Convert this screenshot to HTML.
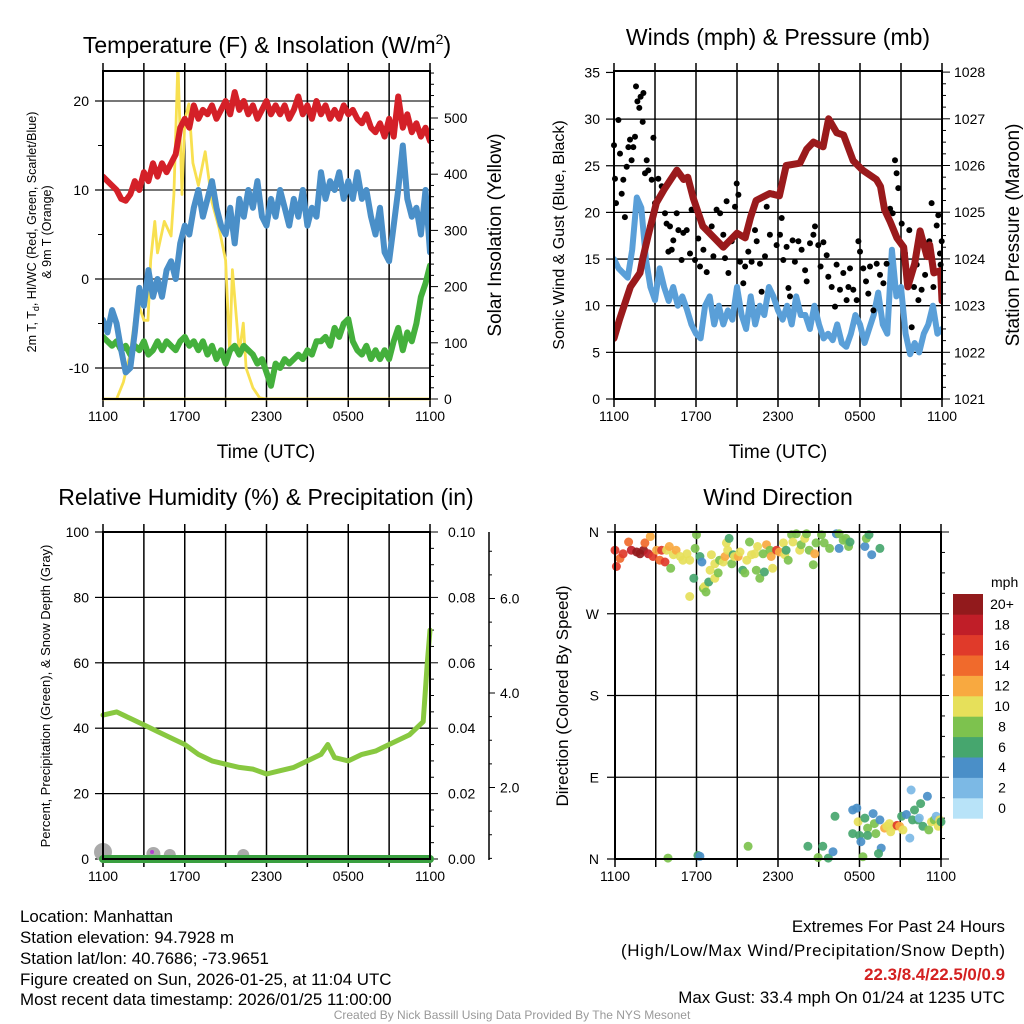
<!DOCTYPE html>
<html><head><meta charset="utf-8"><style>
html,body{margin:0;padding:0;background:#fff;}
svg{display:block;font-family:"Liberation Sans",sans-serif;}
</style></head><body>
<svg id="chart" width="1024" height="1024" viewBox="0 0 1024 1024" xmlns="http://www.w3.org/2000/svg">
<defs>
<clipPath id="c1"><rect x="103" y="71" width="327" height="328"/></clipPath>
<clipPath id="c2"><rect x="614" y="71" width="328" height="328"/></clipPath>
</defs>
<g id="layer"></g>
<text x="267" y="53" font-size="23" text-anchor="middle">Temperature (F) &amp; Insolation (W/m<tspan dy="-9" font-size="14">2</tspan><tspan dy="9">)</tspan></text>
<text x="778" y="45" font-size="23" text-anchor="middle">Winds (mph) &amp; Pressure (mb)</text>
<text x="266" y="505" font-size="23" text-anchor="middle">Relative Humidity (%) &amp; Precipitation (in)</text>
<text x="778" y="505" font-size="23" text-anchor="middle">Wind Direction</text>
<text x="266" y="458" font-size="19" text-anchor="middle">Time (UTC)</text>
<text x="778" y="458" font-size="19" text-anchor="middle">Time (UTC)</text>
<text transform="translate(36,232) rotate(-90)" font-size="12.5" text-anchor="middle"><tspan x="0" y="0">2m T, T<tspan font-size="9" dy="3">d</tspan><tspan dy="-3">, HI/WC (Red, Green, Scarlet/Blue)</tspan></tspan><tspan x="0" y="15">&amp; 9m T (Orange)</tspan></text>
<text transform="translate(501,235) rotate(-90)" font-size="19" text-anchor="middle">Solar Insolation (Yellow)</text>
<text transform="translate(564,235) rotate(-90)" font-size="16" text-anchor="middle">Sonic Wind &amp; Gust (Blue, Black)</text>
<text transform="translate(1019,235) rotate(-90)" font-size="19" text-anchor="middle">Station Pressure (Maroon)</text>
<text transform="translate(50,696) rotate(-90)" font-size="13" text-anchor="middle">Percent, Precipitation (Green), &amp; Snow Depth (Gray)</text>
<text transform="translate(568,696) rotate(-90)" font-size="17" text-anchor="middle">Direction (Colored By Speed)</text>
<text x="991" y="587" font-size="14">mph</text>
<g font-size="16.9">
<text x="20" y="922">Location: Manhattan</text>
<text x="20" y="943">Station elevation: 94.7928 m</text>
<text x="20" y="964">Station lat/lon: 40.7686; -73.9651</text>
<text x="20" y="985">Figure created on Sun, 2026-01-25, at 11:04 UTC</text>
<text x="20" y="1005">Most recent data timestamp: 2026/01/25 11:00:00</text>
</g>
<g font-size="16.9" text-anchor="end">
<text x="1005" y="932">Extremes For Past 24 Hours</text>
<text x="1005" y="956" textLength="384" lengthAdjust="spacing">(High/Low/Max Wind/Precipitation/Snow Depth)</text>
<text x="1005" y="980" fill="#d42020" font-weight="bold">22.3/8.4/22.5/0/0.9</text>
<text x="1005" y="1003">Max Gust: 33.4 mph On 01/24 at 1235 UTC</text>
</g>
<text x="512" y="1019" font-size="12" fill="#999" text-anchor="middle">Created By Nick Bassill Using Data Provided By The NYS Mesonet</text>
</svg>
<script>
// ---------- data ----------
const timeTickLabels = ["1100","1700","2300","0500","1100"];
const tempTicks = [-10,0,10,20];
const solarTicks = [0,100,200,300,400,500];
const windTicks = [0,5,10,15,20,25,30,35];
const pressTicks = [1021,1022,1023,1024,1025,1026,1027,1028];
const rhTicks = [0,20,40,60,80,100];
const precipTicks = ["0.00","0.02","0.04","0.06","0.08","0.10"];
const snowTicks = ["2.0","4.0","6.0"];
const dirLabels = ["N","E","S","W","N"];
const speedLabels = ["0","2","4","6","8","10","12","14","16","18","20+"];
const speedColors = ["#b8e3f8","#7cb9e5","#4a8fc8","#46a66e","#7dc24e","#e6e05a","#f8a940","#f06a2c","#e03a2a","#c01e28","#921a1c"];

const tempValues = [11.5,11,10.5,10,9,8.8,9.5,11,10,12,11,13,11.5,13,12,13,14,17,18,17,19.5,18,19,18.5,19.5,18,19,20,18.5,21,19,20,18.5,19.5,18,19,20,18.5,19.5,18.5,19.5,18,19,20.5,18.5,19.5,18,20,18.5,19.5,18,19,18,19.5,18.5,19,18,17.5,18.5,17,16.5,17.5,16,18,16,20.5,17,18.5,16.5,17.5,16,17,15.5];
const dewValues = [-4.6,-6,-3.5,-5,-8,-10.5,-10,-6,-1,-3,1,-2,0,-2,1,2,0,4,6,5,8,10,7,9,11,8,6,5,8,4,9,7,10,8,11,7,6,9,7,10,8,6,9,7,10,6,8,7,12,9,11,10,12,9,11,9,12,9,10,7,5,8,3,2,6,10,15,9,7,8,5,10,3];
const chillValues = [-6.5,-7,-7.5,-7,-8,-7.5,-8.5,-7.5,-8,-7,-8.5,-8,-7,-8,-7,-7.5,-8,-7,-6.5,-7.5,-7,-8,-7,-8.5,-7.5,-9,-8,-9.5,-8,-7.5,-8.5,-7.5,-8,-8.5,-9.5,-9,-10.5,-12,-9.5,-10,-9,-9.5,-9,-8.5,-9,-8,-8.5,-7,-7,-6.5,-7.5,-5.5,-6.5,-5,-4.5,-7,-8,-8.5,-7.5,-9,-8,-9,-8,-9,-7,-5.5,-8,-6,-7,-5,-2,-0.5,1.5];
const solarTimes = [0,1,1.5,2,2.5,3,3.3,3.5,3.8,4,4.5,5,5.2,5.5,5.8,6,6.3,6.6,7,7.5,8,8.5,9,9.3,9.5,10,10.3,10.5,11,11.5,12,24];
const solarValues = [0,0,30,82,176,140,140,247,316,260,316,290,364,600,364,496,525,420,380,440,350,306,247,82,230,82,135,55,20,2,0,0];

const windValues = [15,14,13.5,13,16,21.6,20.5,15,12,10.6,14,12,10.5,12,10,11,9.6,8,7,6.5,10,11,8,10,8,9.5,8.5,12,9,7.5,11,8,10,9,12,11,9.5,8.5,10,8,11,9,9,7.5,10,8,6.5,7,6.3,8,6,5.6,7,9,8,6,7.5,9,11.4,8,7,16,11,12,7,4.8,6,5,7,8,10,7,7.5];
const gustTimes = [0,.07,.15,.32,.44,.56,.68,.8,.93,1.05,1.17,1.29,1.41,1.54,1.61,1.71,1.85,1.95,2.1,2.15,2.27,2.39,2.51,2.63,2.76,2.88,3.0,3.24,3.49,3.73,3.85,3.98,4.1,4.22,4.34,4.59,4.71,4.95,5.07,5.32,5.56,5.68,5.93,6.17,6.29,6.54,6.78,7.15,7.27,7.51,7.76,8.0,8.12,8.24,8.37,8.61,8.85,8.98,9.1,9.22,9.46,9.59,9.83,10.07,10.32,10.44,10.68,10.8,11.05,11.17,11.41,11.66,11.9,12.15,12.27,12.39,12.63,12.76,12.88,13.07,13.24,13.49,13.73,13.98,14.1,14.34,14.59,14.71,14.95,15.12,15.32,15.56,15.68,15.93,16.17,16.29,16.54,16.78,17.02,17.15,17.27,17.51,17.76,17.88,18.0,18.24,18.44,18.61,18.73,18.98,19.22,19.46,19.71,19.95,20.2,20.39,20.56,20.68,20.8,21.05,21.29,21.61,21.78,21.95,22.15,22.27,22.51,22.76,23.07,23.24,23.37,23.61,23.73,23.85,23.98,23.9];
const gustValues = [27.2,23.6,21,29.9,26.3,22,23.5,19.5,24.9,27,27.8,25.6,27,28.1,33.5,31.9,31.2,32.4,29.7,32.8,24.2,25.6,24.5,18.5,23.5,28,21,23.6,22.8,19.9,18.8,15.8,18.5,16,17,19.9,18.1,14.9,17.8,18.1,15.6,20.3,14.9,17.2,14.2,16,13.6,18.5,15.3,20.3,19.9,17.6,15.1,21.2,13.5,16.9,20.6,23.1,21.9,14.7,12.4,14.2,15.8,14.7,18.1,16.9,14.5,11.5,15.3,20.6,17.6,22,16.5,17.6,19.4,14.9,16.3,11.9,11,17,14.7,16.9,16,13.8,12.6,16.7,17.6,18.5,16.5,14.2,16.8,15.4,13.1,12,9.9,14.4,11.7,13.5,10.6,12,14,11.7,10.6,16.9,15.8,14,12.6,11.3,14.2,9.5,14.5,13.3,12.4,14.5,20.4,19.9,25.6,24.2,22.6,18.8,15.6,18.1,7.7,12,14.4,10.6,11.7,13.3,16.9,21,12,18.6,19.7,15.6,16.9,14.4];
const pressTimes = [0,0.4,1.2,1.9,2.1,2.5,3.1,3.7,4.6,5.1,5.4,5.8,6.5,7.5,8,9,9.6,10,10.4,11.4,12.1,12.6,13.6,14.1,14.6,15.3,15.7,16.3,16.8,17.5,18.2,19.2,19.5,19.8,20.2,20.7,21.2,21.5,22,22.4,22.9,23.1,23.4,23.9,24];
const pressValues = [1022.3,1022.7,1023.4,1023.7,1024.0,1024.5,1025.2,1025.5,1025.9,1025.7,1025.75,1025.3,1024.7,1024.4,1024.25,1024.55,1024.45,1024.9,1025.25,1025.4,1025.35,1026.0,1026.05,1026.35,1026.5,1026.4,1027.0,1026.7,1026.65,1026.1,1025.9,1025.7,1025.55,1025.05,1024.8,1024.45,1024.25,1023.4,1023.9,1024.6,1024.05,1024.3,1023.7,1023.75,1023.1];

const rhTimes = [0,1,2,3,4,5,6,7,8,9,10,11,12,13,14,15,16,16.5,17,18,19,20,21,22,22.5,23,23.5,23.8,24];
const rhValues = [44,45,43,41,39,37,35,32,30,29,28,27.5,26,27,28,30,32,35,31,30,32,33,35,37,38,40,42,60,70];
const precipTimes = [0,24];
const precipValues = [0,0];
const snowTimes = [0,0.1,3.7,4.9,10.3];
const snowSizes = [9,7,7,6,6];

const dirTimes = [0,.1,.37,.6,1.0,1.2,1.6,1.84,2.1,2.2,2.6,2.45,2.8,3.06,3.3,3.43,3.68,3.8,4.0,4.1,4.3,4.5,4.8,5.0,5.3,5.5,5.8,5.9,6.0,6.25,6.4,6.5,6.6,6.7,6.9,5.5,7.0,7.1,7.35,7.35,7.6,7.7,7.97,8.1,8.2,8.3,8.4,8.6,8.7,8.8,9.07,9.2,9.4,9.56,9.7,9.9,10.05,10.3,10.4,10.5,10.66,10.9,11.0,11.15,11.4,11.5,11.6,11.9,12.1,12.4,12.5,12.6,12.75,13.0,13.1,13.35,13.6,13.7,13.97,14.1,14.3,14.6,14.7,14.8,15.2,15.4,15.8,16.3,16.5,16.5,16.8,17.0,17.2,17.3,18.4,18.9,18.5,18.7,19.5,
 3.9,6.1,6.25,9.8,14.2,14.95,15.3,15.7,16.05,16.2,17.5,17.8,17.9,17.5,18.0,18.1,18.25,18.4,18.6,18.6,19.0,19.1,19.2,19.5,19.6,19.4,19.85,20.0,20.2,20.3,20.6,20.76,20.95,21.1,21.2,21.45,21.7,21.8,21.9,22.05,22.3,22.4,22.5,22.67,23.0,23.1,23.3,23.5,23.65,23.8,23.9,24];
const dirValues = [340,322,331,336,349,340,338,336,340,348,355,336,333,340,329,340,327,340,344,320,335,340,333,329,336,329,309,342,357,333,327,298,300,294,305,289,318,335,325,309,315,329,327,333,348,340,353,325,335,333,333,338,318,315,329,349,335,336,318,344,309,336,316,346,340,333,320,340,338,348,335,340,329,357,349,358,340,346,353,358,340,324,336,348,357,348,342,358,358,342,351,353,344,349,344,335,353,357,342,
 1,4,3,14,14,1.7,14,1,8,47,54,56,41,28,26,19,2.5,45,34,26,50,39,28,43,12,6,34,36,39,30,36,37,36,47,32,49,23,76,43,54,43,45,61,36,69,32,41,43,47,36,43,41];
const dirSpeeds = [16,17,14,16,14,18,20,20,20,14,12,18,17,13,14,17,16,11,12,8,10,12,10,10,10,10,6,8,8,6,4,8,10,8,6,10,10,10,10,10,8,8,10,12,10,10,6,8,6,10,12,11,6,8,10,8,10,10,8,10,8,8,6,12,8,12,10,16,12,10,11,6,8,8,10,8,10,8,10,8,8,8,12,8,8,8,8,4,8,4,8,8,8,6,4,4,8,6,6,
 8,6,4,8,6,8,6,6,4,6,4,4,10,6,6,4,8,6,8,6,4,8,8,4,4,6,12,10,10,10,11,16,13,6,10,4,2,2,6,6,6,2,6,6,4,8,10,8,2,10,10,6];

// ---------- scales ----------
const P1 = {l:103,r:430,t:71,b:399};
const P2 = {l:614,r:942,t:71,b:399};
const P3 = {l:103,r:430,t:532,b:859};
const P4 = {l:615,r:941,t:532,b:859};
const x1 = h => P1.l + h*(P1.r-P1.l)/24;
const x2 = h => P2.l + h*(P2.r-P2.l)/24;
const x3 = h => P3.l + h*(P3.r-P3.l)/24;
const x4 = h => P4.l + h*(P4.r-P4.l)/24;
const yT = v => 279 - v*8.9;
const yS = v => 399 - v*0.562;
const yW = v => 399 - v*9.33;
const yP = v => 399 - (v-1021)*46.7;
const yRH = v => 859 - v*3.27;
const yPr = v => 859 - v*3270;
const ySnow = v => 882 - v*47.25;
const yD = d => 859 - d*0.9083;

const NS = "http://www.w3.org/2000/svg";
const layer = document.getElementById('layer');
function mk(tag, attrs, parent){
  const e = document.createElementNS(NS, tag);
  for (const k in attrs) e.setAttribute(k, attrs[k]);
  (parent||layer).appendChild(e);
  return e;
}
function line(x1_,y1_,x2_,y2_,stroke,w,name){
  const e = mk('line',{x1:x1_,y1:y1_,x2:x2_,y2:y2_,stroke:stroke,'stroke-width':w});
  
  
  return e;
}
function text(x,y,s,size,anchor,name,fill){
  const e = mk('text',{x:x,y:y,'font-size':size,'text-anchor':anchor||'middle',fill:fill||'#000'});
  e.textContent = s;
  
  
  return e;
}
function poly(xs, ys, xf, yf, stroke, w, name, clip){
  const pts = xs.map((t,i)=>xf(t).toFixed(1)+','+yf(ys[i]).toFixed(1)).join(' ');
  const e = mk('polyline',{points:pts,fill:'none',stroke:stroke,'stroke-width':w,'stroke-linejoin':'round','stroke-linecap':'round'});
  if (clip) e.setAttribute('clip-path', 'url(#'+clip+')');
  
  
  return e;
}
const evenTimes = arr => arr.map((_,i)=>i*24/(arr.length-1));

function timeAxis(P, xf, name){
  for (let h=0; h<=24; h+=3){
    line(xf(h),P.t-8,xf(h),P.b+8,'#000',1.5,name+'-vgrid');
  }
  timeTickLabels.forEach((s,i)=>text(xf(i*6),P.b+22,s,14,'middle',name+'-time-label'));
}
function frame(P,name){
  const r = mk('rect',{x:P.l,y:P.t,width:P.r-P.l,height:P.b-P.t,fill:'none',stroke:'#000','stroke-width':2});
  
  
}

// Panel 1
tempTicks.forEach(v=>{ line(P1.l,yT(v),P1.r,yT(v),'#777',2,'temp-hgrid'); line(P1.l-8,yT(v),P1.l,yT(v),'#000',1.2,'temp-tick'); text(P1.l-14,yT(v)+5,String(v),14,'end','temp-tick-label'); });
[-5,5,15].forEach(v=>line(P1.l-5,yT(v),P1.l,yT(v),'#000',1,'temp-minor-tick'));
timeAxis(P1,x1,'temp');
for (let v=0; v<=580; v+=20){ line(P1.r,yS(v),P1.r+(v%100===0?8:4),yS(v),'#000',1,'solar-tick'); }
solarTicks.forEach(v=>text(P1.r+14,yS(v)+5,String(v),14,'start','solar-tick-label'));
poly(solarTimes, solarValues, x1, yS, '#f8e050', 2.8, 'solar-insolation-line', 'c1');
poly(evenTimes(chillValues), chillValues, x1, yT, '#44b03c', 6, 'wind-chill-line', 'c1');
poly(evenTimes(dewValues), dewValues, x1, yT, '#4a8fc8', 6, 'dewpoint-line', 'c1');
poly(evenTimes(tempValues), tempValues, x1, yT, '#d42028', 6, 'temperature-line', 'c1');
poly([0,24],[0,0],x1,yS,'#e8c840',2.5,'solar-baseline');
frame(P1,'temp-plot-frame');

// Panel 2
windTicks.forEach(v=>{ if(v>0&&v<35) line(P2.l,yW(v),P2.r,yW(v),'#000',1.3,'wind-hgrid'); line(P2.l-8,yW(v),P2.l,yW(v),'#000',1.2,'wind-tick'); text(P2.l-14,yW(v)+5,String(v),14,'end','wind-tick-label'); });
timeAxis(P2,x2,'wind');
for (let v=1021; v<=1028.01; v+=0.25){ line(P2.r,yP(v),P2.r+(Math.abs(v-Math.round(v))<0.01?8:4),yP(v),'#000',1,'pressure-tick'); }
pressTicks.forEach(v=>text(P2.r+12,yP(v)+5,String(v),14,'start','pressure-tick-label'));
poly(evenTimes(windValues), windValues, x2, yW, '#5a9fd8', 6, 'sonic-wind-line', 'c2');
gustTimes.forEach((t,i)=>{
  const c = mk('circle',{cx:x2(t).toFixed(1),cy:yW(gustValues[i]).toFixed(1),r:3,fill:'#000'});
  
  
});
poly(pressTimes, pressValues, x2, yP, '#9a1a1c', 7, 'pressure-line', 'c2');
frame(P2,'wind-plot-frame');

// Panel 3
rhTicks.forEach(v=>{ if(v>0&&v<100) line(P3.l,yRH(v),P3.r,yRH(v),'#000',1.3,'rh-hgrid'); line(P3.l-8,yRH(v),P3.l,yRH(v),'#000',1.2,'rh-tick'); text(P3.l-14,yRH(v)+5,String(v),14,'end','rh-tick-label'); });
timeAxis(P3,x3,'rh');
for (let i=0;i<=20;i++){ const v=i*0.005; line(P3.r,yPr(v),P3.r+(i%4===0?8:4),yPr(v),'#000',1,'precip-tick'); }
precipTicks.forEach(s=>text(P3.r+18,yPr(parseFloat(s))+5,s,14,'start','precip-tick-label'));
line(489,532,489,860,'#000',1.5,'snow-axis-line');
for (let v=0.5; v<=7; v+=0.5){ if (ySnow(v)>=532) line(489,ySnow(v),489+(Math.abs(v%2)<0.01?6:3),ySnow(v),'#000',1,'snow-tick'); }
snowTicks.forEach(s=>text(500,ySnow(parseFloat(s))+5,s,14,'start','snow-tick-label'));
snowTimes.forEach((t,i)=>{
  const c = mk('circle',{cx:x3(t).toFixed(1),cy:(859-snowSizes[i]+2).toFixed(1),r:snowSizes[i],fill:'#aaa'});
  
  
});
poly(precipTimes, precipValues, x3, yPr, '#3aa040', 8, 'precipitation-line');
poly(rhTimes, rhValues, x3, yRH, '#88c840', 5, 'humidity-line');
const pd = mk('circle',{cx:x3(3.6),cy:852,r:2,fill:'#b040d0'});


frame(P3,'rh-plot-frame');

// Panel 4
dirLabels.forEach((s,i)=>{ const d=i*90; if(i>0&&i<4) line(P4.l,yD(d),P4.r,yD(d),'#000',1.3,'direction-hgrid'); line(P4.l-8,yD(d),P4.l,yD(d),'#000',1.2,'direction-tick'); text(P4.l-16,yD(d)+5,s,14,'end','direction-tick-label'); });
timeAxis(P4,x4,'direction');
for (let k=0;k<=16;k++){ line(P4.r,yD(k*22.5),P4.r+(k%4===0?8:4),yD(k*22.5),'#000',1,'direction-right-tick'); }
dirTimes.forEach((t,i)=>{
  const idx = Math.min(10, Math.floor(dirSpeeds[i]/2));
  const c = mk('circle',{cx:x4(t).toFixed(1),cy:yD(dirValues[i]).toFixed(1),r:4.5,fill:speedColors[idx],'fill-opacity':0.92});
  
  
});
frame(P4,'direction-plot-frame');

// colorbar
const cbTop = 594, cbH = 20.4;
speedLabels.forEach((s,i)=>{
  const j = 10 - i;
  const r = mk('rect',{x:953,y:cbTop+j*cbH,width:30,height:cbH+0.3,fill:speedColors[i]});
  
  
  text(1002,cbTop+j*cbH+15,s,14,'middle','colorbar-label');
});
</script>
</body></html>
